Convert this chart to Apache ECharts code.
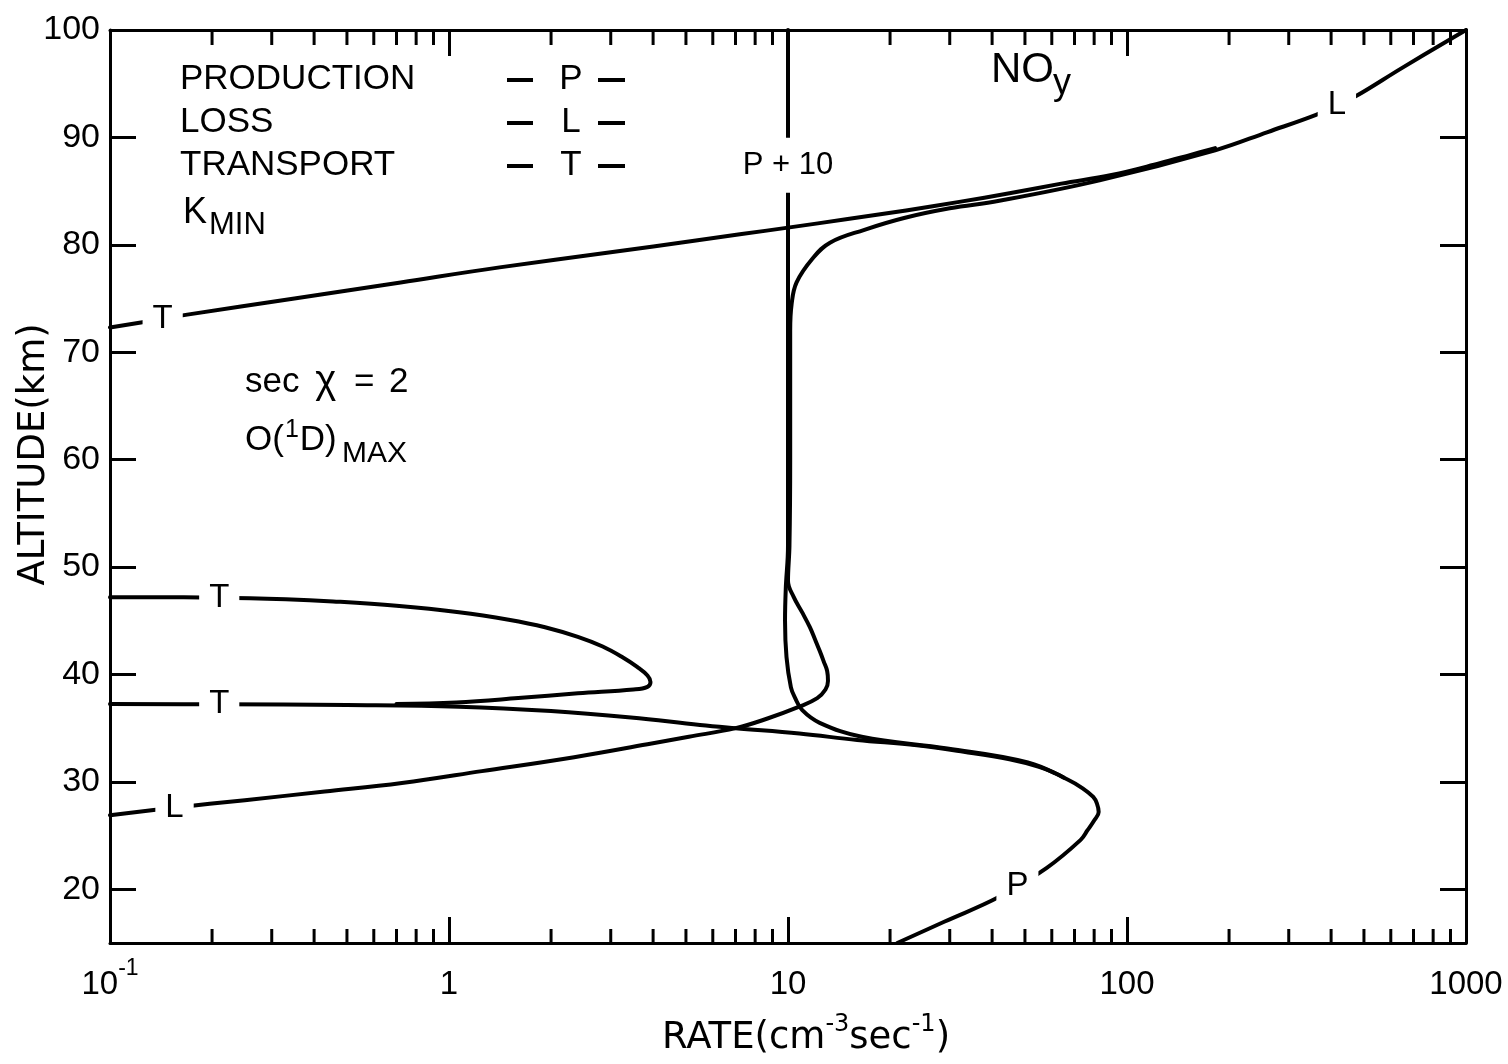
<!DOCTYPE html>
<html>
<head>
<meta charset="utf-8">
<title>NOy production, loss and transport</title>
<script src="https://cdn.jsdelivr.net/npm/echarts@6/dist/echarts.min.js"></script>
<style>
  html, body { margin: 0; padding: 0; background: #fff; }
  #chart { width: 1508px; height: 1064px; }
</style>
</head>
<body>
<div id="chart"></div>
<script>
// ---- axes -------------------------------------------------------------
const ALT_MIN = 15;
const ALT_MAX = 100;
const RATE_MIN = 0.1;
const RATE_MAX = 1000;
const altitudeTicks = [20, 30, 40, 50, 60, 70, 80, 90, 100];
const rateTickBase = ['10', '1', '10', '100', '1000'];   // for 1e-1 .. 1e3
const rateTickExp = ['-1', '', '', '', ''];
const minorRateTicks = [
  0.2, 0.3, 0.4, 0.5, 0.6, 0.7, 0.8, 0.9,
  2, 3, 4, 5, 6, 7, 8, 9,
  20, 30, 40, 50, 60, 70, 80, 90,
  200, 300, 400, 500, 600, 700, 800, 900
];

// ---- curves (altitude in km, rate in cm^-3 s^-1) ------------------------
// Production P (above ~40 km drawn as P/10)
const prodAlt  = [15, 17, 19.3, 22, 24.6, 25.5, 26.4, 27.2, 28.0, 28.6, 29.4, 30.2, 31.8, 33.1, 34.2, 35.5, 36.7, 37.8, 38.8, 41.6, 45, 48, 52, 60, 70, 80, 87.4, 90, 100];
const prodRate = [21, 29, 42, 58, 73, 76.5, 80, 82.5, 81.5, 79.5, 74, 67, 51, 29.5, 16.5, 12.4, 11.0, 10.5, 10.2, 9.9, 9.8, 9.85, 10, 10, 10, 10, 10, 10, 10];

// Loss L
const lossAlt  = [26.9, 27.6, 28.3, 29.1, 29.9, 31.0, 32.3, 33.5, 34.2, 35.0, 35.9, 37.0, 37.8, 38.6, 39.4, 40.3, 41.2, 42.2, 43.3, 44.4, 45.8, 47.2, 48.7, 52, 60, 68, 72, 74.5, 76.5, 78.7, 80.2, 81.4, 82.5, 83.4, 84.1, 86.0, 88.8, 90.5, 92.1, 93.0, 93.8, 96.5, 100];
const lossRate = [0.1, 0.155, 0.25, 0.43, 0.726, 1.25, 2.34, 3.85, 5.1, 7.0, 8.7, 10.8, 12.2, 12.9, 13.12, 13.05, 12.75, 12.4, 12.0, 11.6, 11.0, 10.4, 10.0, 10.1, 10.15, 10.15, 10.15, 10.25, 10.6, 11.8, 13.3, 16.8, 22, 30, 42, 83, 182, 260, 361, 416, 471, 650, 1000];

// Transport T, upper branch
const transUpAlt  = [72.3, 73.1, 73.5, 75.0, 76.5, 77.9, 79.3, 80.4, 81.0, 81.6, 82.4, 83.2, 84.0, 84.8, 85.7, 86.5, 87.6, 88.4, 89.0];
const transUpRate = [0.1, 0.143, 0.169, 0.35, 0.72, 1.41, 3.0, 5.35, 7.3, 10, 15, 22.3, 32, 45, 64, 90, 125, 155, 182];

// Transport T, lobe between 37 and 47 km
const transLobeAlt  = [47.2, 47.15, 47.0, 46.8, 46.4, 45.8, 45.1, 44.4, 43.5, 42.6, 41.6, 40.7, 39.9, 39.3, 38.85, 38.6, 38.25, 37.8, 37.4, 37.25];
const transLobeRate = [0.1, 0.21, 0.33, 0.455, 0.7, 1.07, 1.5, 1.92, 2.4, 2.84, 3.25, 3.59, 3.85, 3.93, 3.85, 3.5, 2.4, 1.6, 1.05, 0.7];

// Transport T, lower branch joining P
const transLowAlt  = [37.25, 37.22, 37.15, 37.0, 36.6, 36.0, 35.3, 35.0, 34.5, 33.9, 33.4, 32.8, 32.1, 31.4, 30.8, 30.4];
const transLowRate = [0.1, 0.21, 0.5, 1.07, 2.0, 3.44, 5.5, 7.0, 10.8, 16, 24, 33, 45, 55, 61.5, 65];

// in-line curve tags: [text, rate, altitude]
const curveTags = [
  ['T', 0.143, 73.1],
  ['T', 0.21, 47.15],
  ['T', 0.21, 37.22],
  ['L', 0.155, 27.6],
  ['L', 416, 93.0],
  ['P', 47.5, 20.3],
  ['P + 10', 10, 87.4]
];

// ---- drawing ----------------------------------------------------------
const ink = '#000';
const textFont = 'Liberation Sans';
const titleFont = 'DejaVu Sans';

function pairs(alts, rates) {
  return alts.map((a, i) => [rates[i], a]);
}

function curve(name, alts, rates) {
  return {
    type: 'line',
    name: name,
    data: pairs(alts, rates),
    showSymbol: false,
    symbol: 'none',
    smooth: 0.4,
    lineStyle: { color: ink, width: 4, cap: 'round', join: 'round' },
    z: 2,
    silent: true
  };
}

const logAxisBase = {
  type: 'log',
  logBase: 10,
  min: RATE_MIN,
  max: RATE_MAX,
  splitLine: { show: false },
  axisLine: { show: true, lineStyle: { color: ink, width: 3 } },
  axisTick: { show: true, inside: true, length: 26, lineStyle: { color: ink, width: 3 } }
};

const altAxisBase = {
  type: 'value',
  min: ALT_MIN,
  max: ALT_MAX,
  splitLine: { show: false },
  axisLine: { show: true, lineStyle: { color: ink, width: 3 } },
  axisTick: { show: true, inside: true, length: 26, customValues: altitudeTicks, lineStyle: { color: ink, width: 3 } }
};

function plainText(str, x, y, size) {
  return { type: 'text', x: x, y: y, style: { text: str, fontFamily: textFont, fontSize: size, fill: ink, verticalAlign: 'middle' } };
}

function keyDash(x1, x2, y) {
  return { type: 'line', shape: { x1: x1, y1: y, x2: x2, y2: y }, style: { stroke: ink, lineWidth: 4 } };
}

const option = {
  animation: false,
  backgroundColor: '#fff',
  grid: { left: 110, right: 42, top: 30, bottom: 121, containLabel: false, outerBoundsMode: 'none' },
  xAxis: [
    Object.assign({}, logAxisBase, {
      position: 'bottom',
      axisLabel: {
        show: true,
        margin: 14,
        formatter: function (v) {
          const k = Math.round(Math.log10(v)) + 1;
          const exp = rateTickExp[k];
          return exp ? '{n|' + rateTickBase[k] + '}{s|' + exp + '}' : '{n|' + rateTickBase[k] + '}';
        },
        rich: {
          n: { fontFamily: textFont, fontSize: 33, color: ink, lineHeight: 44, verticalAlign: 'bottom' },
          s: { fontFamily: textFont, fontSize: 23, color: ink, lineHeight: 18, verticalAlign: 'top' }
        }
      },
      name: '{p|}{a|RATE(cm}{s|-3}{a|sec}{s|-1}{a|)}',
      nameLocation: 'middle',
      nameGap: 70,
      nameMoveOverlap: false,
      nameTextStyle: {
        rich: {
          p: { width: 36, lineHeight: 44 },
          a: { fontFamily: titleFont, fontSize: 37, color: ink, lineHeight: 44, verticalAlign: 'bottom' },
          s: { fontFamily: titleFont, fontSize: 24, color: ink, lineHeight: 18, verticalAlign: 'top' }
        }
      }
    }),
    Object.assign({}, logAxisBase, {
      position: 'top',
      axisLabel: { show: false }
    })
  ],
  yAxis: [
    Object.assign({}, altAxisBase, {
      position: 'left',
      axisLabel: {
        show: true,
        customValues: altitudeTicks,
        margin: 10,
        fontFamily: textFont,
        fontSize: 34,
        color: ink
      },
      name: 'ALTITUDE(km)',
      nameLocation: 'middle',
      nameGap: 57,
      nameMoveOverlap: false,
      nameTextStyle: { fontFamily: titleFont, fontSize: 37, color: ink, padding: [0, 0, 0, 64] }
    }),
    Object.assign({}, altAxisBase, {
      position: 'right',
      axisLabel: { show: false }
    })
  ],
  series: [
    curve('P', prodAlt, prodRate),
    curve('L', lossAlt, lossRate),
    curve('T upper', transUpAlt, transUpRate),
    curve('T lobe', transLobeAlt, transLobeRate),
    curve('T lower', transLowAlt, transLowRate),
    {
      // minor decade ticks along the bottom and top frame
      type: 'custom',
      silent: true,
      clip: false,
      z: 3,
      data: minorRateTicks.map(v => [v, ALT_MIN]),
      renderItem: function (params, api) {
        const v = api.value(0);
        const b = api.coord([v, ALT_MIN]);
        const t = api.coord([v, ALT_MAX]);
        const st = { stroke: ink, lineWidth: 3 };
        return {
          type: 'group',
          children: [
            { type: 'line', shape: { x1: b[0], y1: b[1], x2: b[0], y2: b[1] - 14 }, style: st },
            { type: 'line', shape: { x1: t[0], y1: t[1], x2: t[0], y2: t[1] + 15 }, style: st }
          ]
        };
      }
    },
    {
      // letters set into the curves, on a white box that breaks the line
      type: 'custom',
      silent: true,
      clip: false,
      z: 6,
      data: curveTags.map(t => [t[1], t[2]]),
      renderItem: function (params, api) {
        const tag = curveTags[params.dataIndex][0];
        const c = api.coord([api.value(0), api.value(1)]);
        const wide = tag.length > 1;
        return {
          type: 'text',
          x: c[0],
          y: c[1],
          z2: 10,
          style: {
            text: tag,
            fontFamily: textFont,
            fontSize: wide ? 31 : 33,
            fill: ink,
            align: 'center',
            verticalAlign: 'middle',
            backgroundColor: '#fff',
            padding: wide ? [12, 3] : [4, 10]
          }
        };
      }
    }
  ],
  graphic: [
    // key block
    plainText('PRODUCTION', 180, 79, 35),
    plainText('LOSS', 180, 122, 35),
    plainText('TRANSPORT', 180, 165, 35),
    plainText('K', 183, 213, 36),
    plainText('MIN', 209, 225, 31),
    { type: 'text', x: 571, y: 79, style: { text: 'P', fontFamily: textFont, fontSize: 35, fill: ink, align: 'center', verticalAlign: 'middle' } },
    { type: 'text', x: 571, y: 122, style: { text: 'L', fontFamily: textFont, fontSize: 35, fill: ink, align: 'center', verticalAlign: 'middle' } },
    { type: 'text', x: 571, y: 165, style: { text: 'T', fontFamily: textFont, fontSize: 35, fill: ink, align: 'center', verticalAlign: 'middle' } },
    keyDash(507, 533, 80), keyDash(598, 625, 80),
    keyDash(507, 533, 123), keyDash(598, 625, 123),
    keyDash(507, 533, 166), keyDash(598, 625, 166),
    // species
    plainText('NO', 991, 70, 42),
    plainText('y', 1053, 84, 36),
    // conditions
    { type: 'text', x: 245, y: 382, style: {
        text: '{t|sec }{g|χ}{e| = }{t|2}',
        verticalAlign: 'middle',
        rich: {
          t: { fontFamily: textFont, fontSize: 35, fill: ink, lineHeight: 44 },
          g: { fontFamily: textFont, fontSize: 40, fill: ink, lineHeight: 44, padding: [0, 5, 0, 6] },
          e: { fontFamily: textFont, fontSize: 35, fill: ink, lineHeight: 44, padding: [0, 5, 0, 3] }
        }
      } },
    { type: 'text', x: 245, y: 440, style: {
        text: '{a|O(}{s|1}{a|D)}',
        verticalAlign: 'middle',
        rich: {
          a: { fontFamily: textFont, fontSize: 35, fill: ink, lineHeight: 44, verticalAlign: 'middle' },
          s: { fontFamily: textFont, fontSize: 25, fill: ink, lineHeight: 20, verticalAlign: 'top', padding: [0, 1, 0, 1] }
        }
      } },
    plainText('MAX', 342, 454, 30)
  ]
};

const chart = echarts.init(document.getElementById('chart'), null, { renderer: 'canvas' });
chart.setOption(option);
</script>
</body>
</html>
